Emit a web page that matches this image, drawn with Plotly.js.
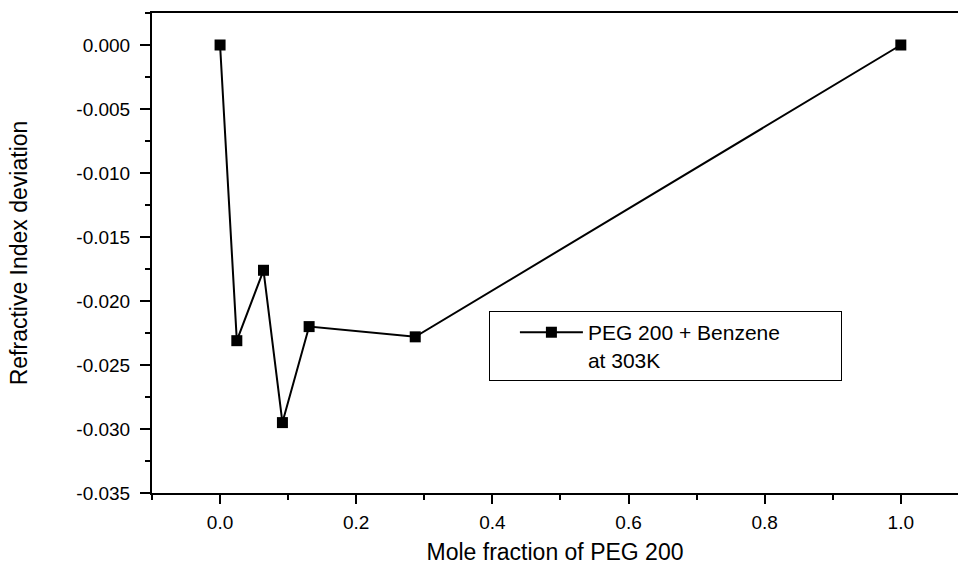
<!DOCTYPE html>
<html>
<head>
<meta charset="utf-8">
<script src="https://cdn.plot.ly/plotly-3.0.1.min.js"></script>
<style>html,body{margin:0;padding:0;background:#fff;}#chart{width:958px;height:565px;}</style>
</head>
<body>
<div id="chart"></div>
<script>
// Data
const moleFraction = [0.0, 0.0246, 0.0638, 0.0916, 0.1308, 0.2867, 1.0];
const refractiveDeviation = [0.0, -0.0231, -0.0176, -0.0295, -0.0220, -0.0228, 0.0];
const seriesName = 'PEG 200 + Benzene<br>at 303K';
const yTickValues = [0.000, -0.005, -0.010, -0.015, -0.020, -0.025, -0.030, -0.035];
const yTickLabels = ['0.000', '-0.005', '-0.010', '-0.015', '-0.020', '-0.025', '-0.030', '-0.035'];
const xTickValues = [0.0, 0.2, 0.4, 0.6, 0.8, 1.0];
const xTickLabels = ['0.0', '0.2', '0.4', '0.6', '0.8', '1.0'];

const FONT = '"Liberation Sans", Arial, sans-serif';

const trace = {
  x: moleFraction,
  y: refractiveDeviation,
  name: seriesName,
  type: 'scatter',
  mode: 'lines+markers',
  line: {color: '#000', width: 2},
  marker: {symbol: 'square', size: 11, color: '#000'},
  showlegend: true
};

const layout = {
  width: 958,
  height: 565,
  margin: {l: 152, r: 0, t: 13, b: 72},
  paper_bgcolor: '#fff',
  plot_bgcolor: '#fff',
  font: {family: FONT, color: '#000', size: 19},
  xaxis: {
    range: [-0.1, 1.084],
    showgrid: false,
    zeroline: false,
    showline: true,
    linecolor: '#000',
    linewidth: 2,
    mirror: true,
    ticks: 'outside',
    ticklen: 9,
    tickwidth: 2,
    tickcolor: '#000',
    tickvals: xTickValues,
    ticktext: xTickLabels,
    tickfont: {family: FONT, size: 19, color: '#000'},
    ticklabelstandoff: 2,
    minor: {dtick: 0.1, tick0: 0, ticks: 'outside', ticklen: 5, tickwidth: 2, tickcolor: '#000', showgrid: false},
    title: {text: 'Mole fraction of PEG 200', font: {family: FONT, size: 23, color: '#000'}, standoff: 14}
  },
  yaxis: {
    range: [-0.035, 0.0025],
    showgrid: false,
    zeroline: false,
    showline: true,
    linecolor: '#000',
    linewidth: 2,
    mirror: false,
    ticks: 'outside',
    ticklen: 10,
    tickwidth: 2,
    tickcolor: '#000',
    tickvals: yTickValues,
    ticktext: yTickLabels,
    tickfont: {family: FONT, size: 19, color: '#000'},
    ticklabelstandoff: 6,
    minor: {dtick: 0.0025, tick0: 0, ticks: 'outside', ticklen: 5, tickwidth: 2, tickcolor: '#000', showgrid: false},
    title: {text: 'Refractive Index deviation', font: {family: FONT, size: 23, color: '#000'}, standoff: 42}
  },
  legend: {
    orientation: 'h',
    x: 0.418,
    y: 0.379,
    xanchor: 'left',
    yanchor: 'top',
    bgcolor: '#fff',
    bordercolor: '#000',
    borderwidth: 1,
    itemwidth: 63,
    indentation: 25,
    valign: 'top',
    font: {family: FONT, size: 21, color: '#000'},
    entrywidth: 248,
    tracegroupgap: 0
  }
};

Plotly.newPlot('chart', [trace], layout, {displayModeBar: false, staticPlot: true});
</script>
</body>
</html>
